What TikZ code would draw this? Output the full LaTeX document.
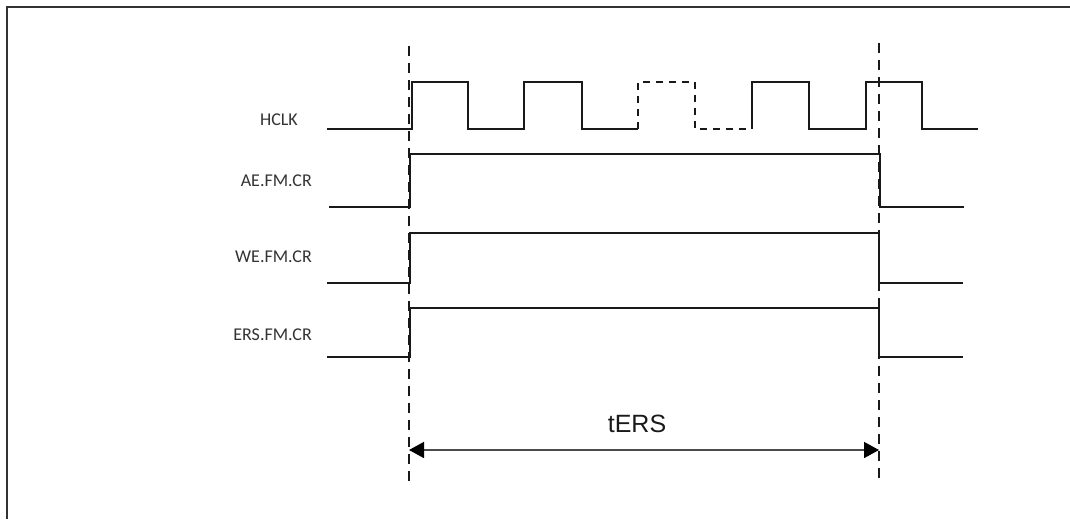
\documentclass[tikz,border=0pt]{standalone}
\usepackage{fontspec}
\setmainfont{Carlito}
\newfontfamily\arialfont{Liberation Sans}
\usetikzlibrary{arrows.meta}
\begin{document}
\begin{tikzpicture}[x=1pt,y=-1pt,
  sig/.style={line width=2pt, line join=miter, black!90},
  sigdash/.style={sig, dash pattern=on 7pt off 6pt},
  guide/.style={line width=2.2pt, black!90, dash pattern=on 10pt off 7pt},
  lbl/.style={anchor=east, inner sep=0pt, text=black!80, font=\fontsize{18}{20}\selectfont},
  meas/.style={line width=1.6pt, black!70, {Triangle[length=15pt,width=16pt,black]}-{Triangle[length=15pt,width=16pt,black]}}]
\useasboundingbox (0,0) rectangle (1070,519);
% frame
\draw[line width=2pt, black!80] (7,519) -- (7,7) -- (1070,7);
% labels
\node[lbl] (hclk) at (298,120) {HCLK};
\node[lbl] (ae) at (312,181) {AE.FM.CR};
\node[lbl] (we) at (312,257) {WE.FM.CR};
\node[lbl] (ers) at (312,335) {ERS.FM.CR};
% guide lines
\coordinate (gLt) at (409,46);
\coordinate (gLb) at (409,487);
\coordinate (gRt) at (879,43);
\coordinate (gRb) at (879,484);
\draw[guide] (gLt) -- (gLb);
\draw[guide] (gRt) -- (gRb);
% HCLK
\draw[sig] (327,129) -- (412,129) -- (412,82) -- (468,82) -- (468,129) -- (524,129) -- (524,82) -- (582,82) -- (582,129) -- (638,129);
\draw[sigdash] (638,129) -- (638,82) -- (695,82) -- (695,129) -- (752,129);
\draw[sig] (752,129) -- (752,82) -- (809,82) -- (809,129) -- (866,129) -- (866,82) -- (922,82) -- (922,129) -- (978,129);
% AE
\draw[sig] (329,207) -- (410,207) -- (410,154) -- (880,154) -- (880,207) -- (964,207);
% WE
\draw[sig] (327,283) -- (410,283) -- (410,233) -- (879,233) -- (879,283) -- (963,283);
% ERS
\draw[sig] (327,357) -- (410,357) -- (410,308) -- (879,308) -- (879,357) -- (963,357);
% measurement
\coordinate (mL) at (409,450);
\coordinate (mR) at (879,450);
\draw[meas] (mL) -- (mR);
\node[font=\arialfont\fontsize{25}{28}\selectfont, text=black!90] (ters) at (637,424) {tERS};
\end{tikzpicture}
\end{document}
